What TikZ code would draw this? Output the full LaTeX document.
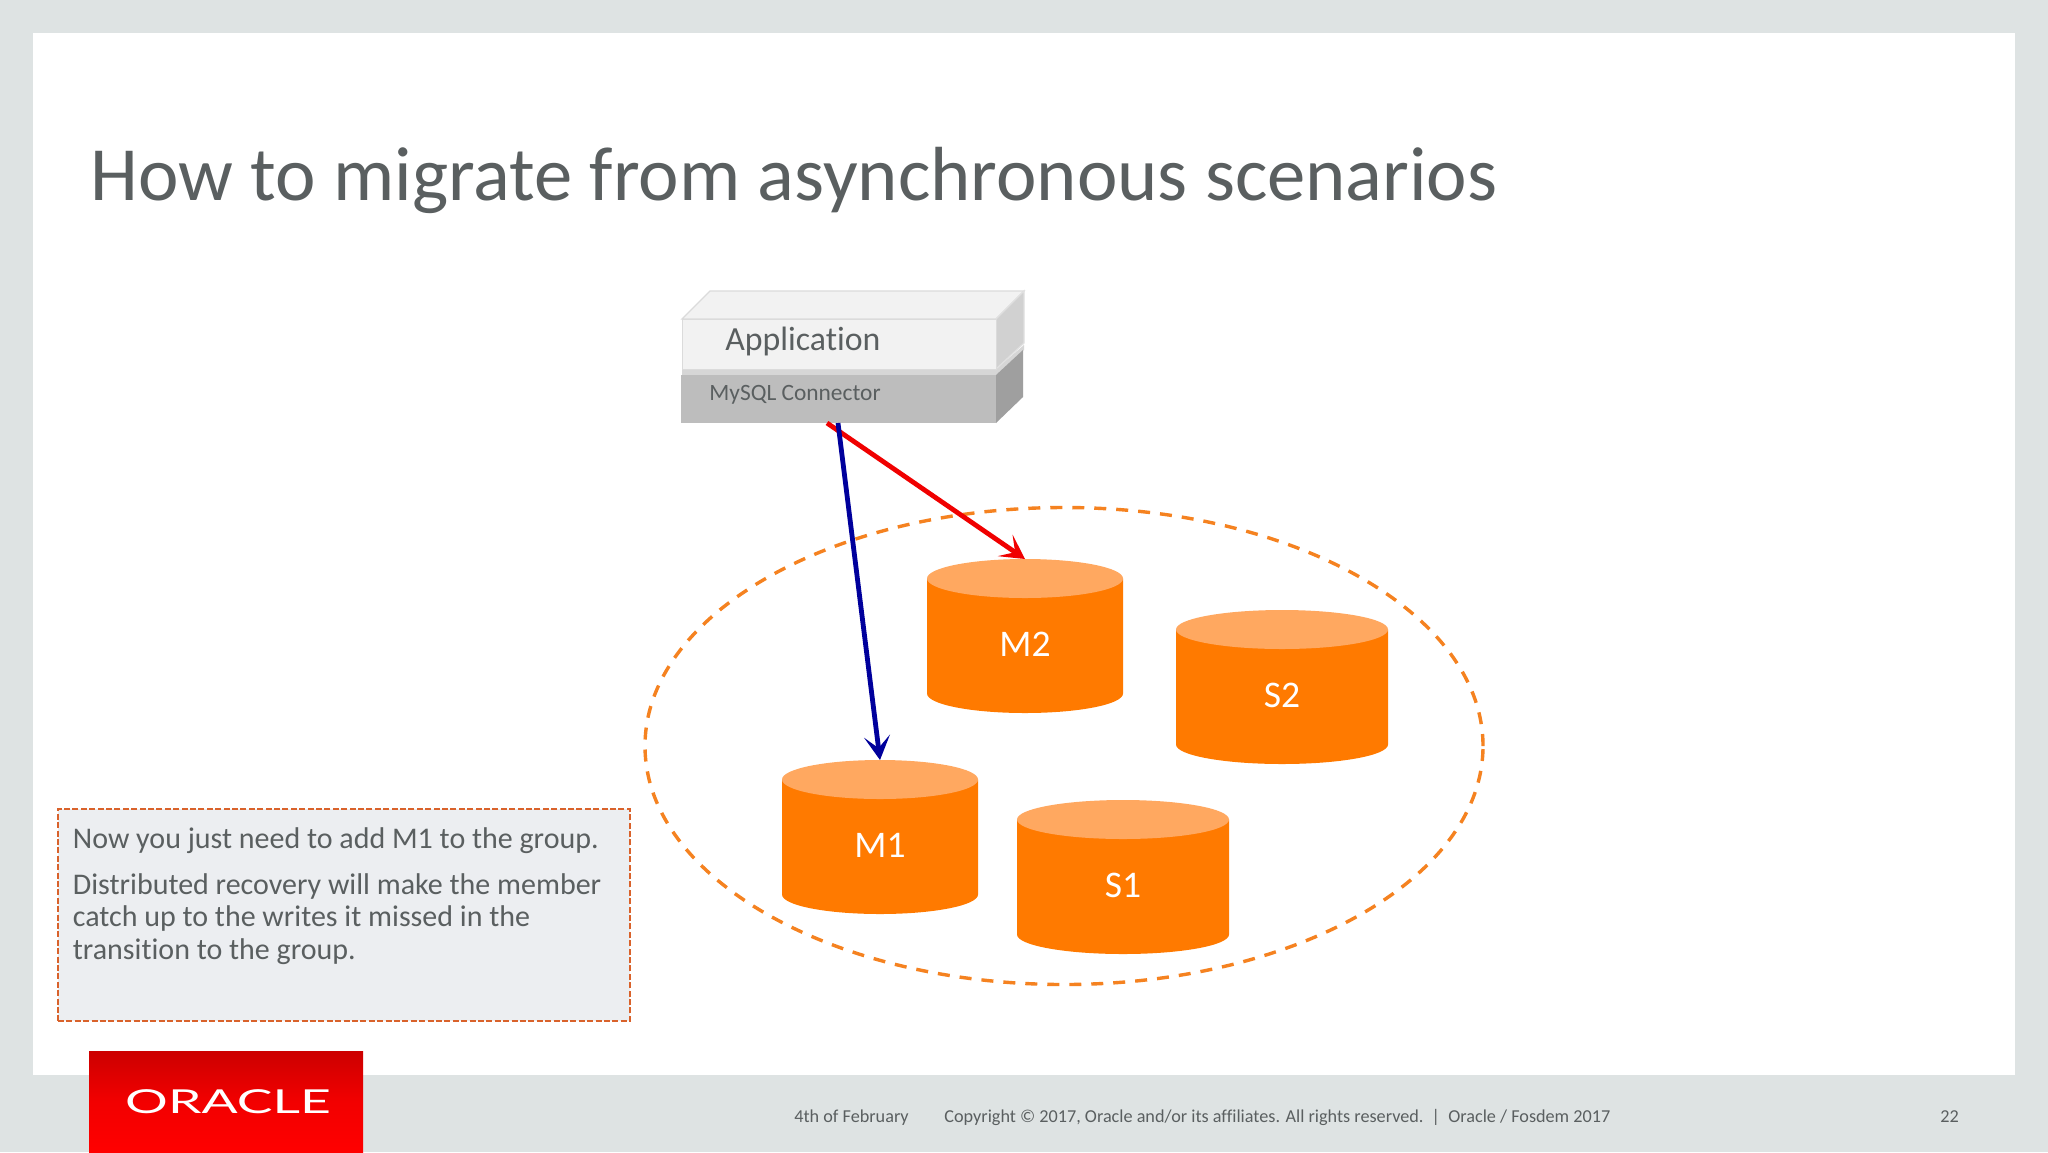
\documentclass[tikz,border=0pt]{standalone}
\usepackage{fontspec}
\setmainfont{Carlito}[Ligatures=NoCommon]
\newfontfamily\logofont{Lato}
\usetikzlibrary{arrows.meta,shapes.geometric}
\definecolor{frame}{HTML}{DEE3E3}
\definecolor{ink}{HTML}{5A5F60}
\definecolor{orbody}{HTML}{FF7A00}
\definecolor{orcap}{HTML}{FFA860}
\definecolor{ordash}{HTML}{F58220}
\definecolor{noteedge}{HTML}{D9622B}
\definecolor{notefill}{HTML}{ECEEF1}
\definecolor{arrblue}{HTML}{00009C}
\definecolor{arrred}{HTML}{F00000}
\tikzset{
  x=0.5pt,y=-0.5pt,
  bodyface/.style={fill=orbody,draw=none},
  capface/.style={fill=orcap,draw=none},
  cyllabel/.style={text=white,font=\fontsize{18.8}{21}\selectfont,inner sep=0pt},
  flow/.style={line width=2.4pt,-{Stealth[length=12pt,width=13pt,inset=6pt]}},
  footer/.style={text=ink,font=\fontsize{9.1}{11}\selectfont,inner sep=0pt,anchor=base west},
}
\newcommand{\cyl}[6]{% name, x1, x2, top, bottom, label
  \pgfmathsetmacro{\rx}{(#3-#2)/2}
  \pgfmathsetmacro{\cx}{(#3+#2)/2}
  \pgfmathsetmacro{\ry}{19.5}
  \pgfmathsetmacro{\cyt}{#4+\ry}
  \pgfmathsetmacro{\cyb}{#5-\ry}
  \pgfmathsetmacro{\ly}{(#4+#5)/2+8}
  \fill[bodyface] (#2,\cyt) -- (#2,\cyb) arc[start angle=180,end angle=360,x radius=\rx*0.5pt,y radius=\ry*0.5pt] -- (#3,\cyt) -- cycle;
  \fill[capface] (\cx,\cyt) ellipse[x radius=\rx*0.5pt,y radius=\ry*0.5pt];
  \coordinate (#1-top) at (\cx,#4);
  \node[cyllabel] (#1) at (\cx,\ly) {#6};
}
\begin{document}
\begin{tikzpicture}
\useasboundingbox (0,0) rectangle (2048,1152);
\fill[frame] (0,0) rectangle (2048,1152);
\fill[white] (33,33) rectangle (2015,1075);
% title
\node[anchor=base west,inner sep=0pt,text=ink,font=\fontsize{38.35}{46}\selectfont] (title) at (90,200) {How to migrate from asynchronous scenarios};
% application stack
\fill[black!16] (682,369) -- (996,369) -- (1024,345) -- (1024,350) -- (996,375) -- (682,375) -- cycle;
\fill[gray!75] (996,375) -- (1023,350) -- (1023,397) -- (996,423) -- cycle;
\node[draw=none,fill=black!26,minimum width=315pt*0.5,minimum height=48pt*0.5,inner sep=0pt,anchor=north west] (conn) at (681,375) {};
\node[anchor=base west,inner sep=0pt,text=ink,font=\fontsize{11.7}{14}\selectfont] (connlabel) at (709,400) {MySQL Connector};
\fill[black!5,draw=black!14,line width=.6pt] (682,319) -- (710,291) -- (1024,291) -- (996,319) -- cycle;
\fill[black!18,draw=black!12,line width=.6pt] (996,319) -- (1024,291) -- (1024,343) -- (996,369) -- cycle;
\node[draw=black!14,line width=.6pt,fill=black!5,minimum width=314pt*0.5,minimum height=50pt*0.5,inner sep=0pt,anchor=north west] (app) at (682,319) {};
\node[anchor=base west,inner sep=0pt,text=ink,font=\fontsize{16.9}{20}\selectfont] (applabel) at (725,350) {Application};
% group ellipse
\node[draw=ordash,dash pattern=on 6pt off 5pt,line width=1.7pt,ellipse,minimum width=838pt*0.5,minimum height=477pt*0.5,inner sep=0pt] (group) at (1064,746) {};
% cylinders
\cyl{m2}{927}{1123}{559}{713}{M2}
\cyl{s2}{1176}{1388}{610}{764}{S2}
\cyl{m1}{782}{978}{760}{914}{M1}
\cyl{s1}{1017}{1229}{800}{954}{S1}
% connectors
\coordinate (redtail) at (827,423);
\coordinate (bluetail) at (838,423);
\draw[flow,draw=arrred] (redtail) -- (m2-top);
\draw[flow,draw=arrblue] (bluetail) -- (m1-top);
% note
\node[draw=noteedge,dash pattern=on 3pt off 1.2pt,line width=1pt,fill=notefill,minimum width=572pt*0.5,minimum height=212pt*0.5,inner sep=0pt,anchor=north west] (note) at (57,808) {};
\node[anchor=north west,inner sep=0pt,align=left,text=ink,font=\fontsize{15}{16.2}\selectfont] (notetext) at (72.5,827.5) {Now you just need to add M1 to the group.\\[6.6pt]Distributed recovery will make the member\\catch up to the writes it missed in the\\transition to the group.};
% logo
\shade[top color=red!80!black,bottom color=red,middle color=red!95!black] (89,1051) rectangle (363,1152);
\node[text=white,inner sep=0pt,font=\logofont\fontsize{16.5}{18}\selectfont,xscale=1.62] (logo) at (228,1102) {ORACLE};
% footer
\node[footer] (date) at (794,1122) {4th of February};
\node[footer] (copy) at (944,1122) {Copyright © 2017, Oracle and/or its affiliates. All rights reserved.\ \ |\ \ Oracle / Fosdem 2017};
\node[footer] (page) at (1940,1122) {22};
\end{tikzpicture}
\end{document}
